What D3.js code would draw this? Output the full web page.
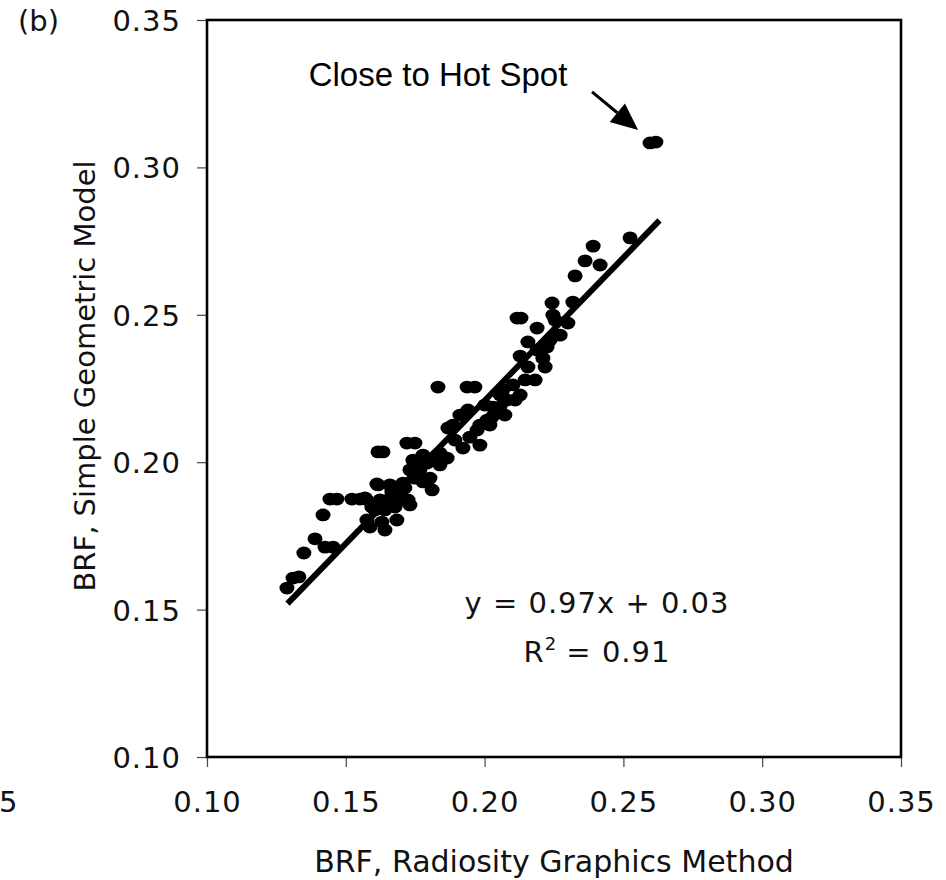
<!DOCTYPE html>
<html>
<head>
<meta charset="utf-8">
<script src="https://cdn.jsdelivr.net/npm/d3@7"></script>
<style>
  body { margin: 0; background: #fff; }
  svg { display: block; }
  .tick-label { font-family: "DejaVu Sans", sans-serif; font-size: 29px; letter-spacing: 1px; fill: #111; }
  .title { font-family: "DejaVu Sans", sans-serif; fill: #111; }
</style>
</head>
<body>
<div id="chart"></div>
<script>
// BRF comparison: radiosity graphics method (x) vs simple geometric model (y)
var radiosityBRF = [
  0.1288, 0.1310, 0.1331, 0.1349, 0.1389, 0.1425, 0.1454, 0.1418, 0.1443, 0.1468,
  0.1522, 0.1551, 0.1573, 0.1612, 0.1594, 0.1576, 0.1587, 0.1630, 0.1605, 0.1641,
  0.1677, 0.1695, 0.1724, 0.1659, 0.1706, 0.1731, 0.1569, 0.1616, 0.1634, 0.1832,
  0.1937, 0.1965, 0.1720, 0.1749, 0.1616, 0.1623, 0.1684, 0.1742, 0.1767, 0.1793,
  0.1829, 0.1803, 0.1839, 0.1911, 0.1868, 0.1886, 0.1839, 0.1865, 0.1947, 0.1973,
  0.2009, 0.2027, 0.2055, 0.2081, 0.2066, 0.2030, 0.1684, 0.1731, 0.1778, 0.1811,
  0.1893, 0.1922, 0.1983, 0.2102, 0.2146, 0.2156, 0.2210, 0.2236, 0.2225, 0.2156,
  0.2189, 0.2246, 0.2254, 0.2300, 0.2243, 0.2318, 0.2117, 0.2131, 0.2326, 0.2362,
  0.2391, 0.2416, 0.2524, 0.2596, 0.2617, 0.2189, 0.2128, 0.2056, 0.2001, 0.1940,
  0.1983, 0.2019, 0.2073, 0.2110, 0.2128, 0.2182, 0.2218, 0.2272, 0.1652, 0.1666,
  0.1749, 0.1713, 0.1641, 0.1778
];
var geometricBRF = [
  0.1573, 0.1607, 0.1611, 0.1692, 0.1740, 0.1712, 0.1712, 0.1821, 0.1875, 0.1875,
  0.1875, 0.1875, 0.1875, 0.1926, 0.1848, 0.1804, 0.1780, 0.1797, 0.1838, 0.1838,
  0.1848, 0.1896, 0.1872, 0.1923, 0.1929, 0.1974, 0.1879, 0.2035, 0.2035, 0.2255,
  0.2255, 0.2255, 0.2065, 0.2065, 0.1923, 0.1872, 0.1865, 0.2007, 0.1974, 0.1997,
  0.2024, 0.1946, 0.1991, 0.2160, 0.2116, 0.2126, 0.2031, 0.2014, 0.2085, 0.2109,
  0.2143, 0.2153, 0.2187, 0.2211, 0.2245, 0.2187, 0.1804, 0.1855, 0.1933, 0.1906,
  0.2075, 0.2048, 0.2126, 0.2262, 0.2279, 0.2323, 0.2353, 0.2415, 0.2391, 0.2408,
  0.2455, 0.2499, 0.2482, 0.2472, 0.2540, 0.2543, 0.2489, 0.2489, 0.2632, 0.2683,
  0.2733, 0.2669, 0.2761, 0.3083, 0.3086, 0.2381, 0.2360, 0.2228, 0.2194, 0.2177,
  0.2058, 0.2126, 0.2160, 0.2211, 0.2228, 0.2279, 0.2323, 0.2431, 0.1872, 0.1899,
  0.1946, 0.1913, 0.1770, 0.2024
];

// fitted line endpoints (y = 0.97x + 0.03)
var fitX = [0.129, 0.263];
var fitY = [0.152, 0.282];

var tickValues = [0.10, 0.15, 0.20, 0.25, 0.30, 0.35];

var width = 946, height = 880;
var margin = { top: 20, right: 45, bottom: 123, left: 207 };

var svg = d3.select("#chart").append("svg")
  .attr("width", width)
  .attr("height", height);

var x = d3.scaleLinear().domain([0.10, 0.35]).range([margin.left, width - margin.right]);
var y = d3.scaleLinear().domain([0.10, 0.35]).range([height - margin.bottom, margin.top]);

var fmt = d3.format(".2f");

// y axis ticks + labels
var yAxis = svg.append("g")
  .attr("transform", "translate(" + margin.left + ",0)")
  .call(d3.axisLeft(y).tickValues(tickValues).tickSize(10).tickFormat(fmt));
yAxis.select(".domain").remove();
yAxis.selectAll(".tick line").attr("stroke", "#444").attr("stroke-width", 1.2);
yAxis.selectAll(".tick text")
  .attr("class", "tick-label")
  .attr("x", -26)
  .attr("dy", "0.36em");

// x axis ticks + labels
var xAxis = svg.append("g")
  .attr("transform", "translate(0," + (height - margin.bottom) + ")")
  .call(d3.axisBottom(x).tickValues(tickValues).tickSize(10).tickFormat(fmt));
xAxis.select(".domain").remove();
xAxis.selectAll(".tick line").attr("stroke", "#444").attr("stroke-width", 1.2);
xAxis.selectAll(".tick text")
  .attr("class", "tick-label")
  .attr("y", 55)
  .attr("dy", 0);
xAxis.attr("font-size", null).attr("font-family", null);
yAxis.attr("font-size", null).attr("font-family", null);

// clipped label left over from the neighbouring panel
svg.append("text")
  .attr("class", "tick-label")
  .attr("x", -1)
  .attr("y", height - margin.bottom + 55)
  .text("5");

// plot frame
svg.append("rect")
  .attr("x", x(0.10))
  .attr("y", y(0.35))
  .attr("width", x(0.35) - x(0.10))
  .attr("height", y(0.10) - y(0.35))
  .attr("fill", "none")
  .attr("stroke", "#000")
  .attr("stroke-width", 2.6);

// points
var pts = radiosityBRF.map(function(d, i) { return { x: d, y: geometricBRF[i] }; });

svg.append("g")
  .selectAll("ellipse")
  .data(pts)
  .enter().append("ellipse")
  .attr("cx", function(d) { return x(d.x); })
  .attr("cy", function(d) { return y(d.y); })
  .attr("rx", 7.5)
  .attr("ry", 6.4)
  .attr("fill", "#000");

// trend line
svg.append("line")
  .attr("x1", x(fitX[0])).attr("y1", y(fitY[0]))
  .attr("x2", x(fitX[1])).attr("y2", y(fitY[1]))
  .attr("stroke", "#000")
  .attr("stroke-width", 6);

// equation
svg.append("text")
  .attr("class", "title")
  .attr("text-anchor", "middle")
  .attr("x", 597).attr("y", 613)
  .style("font-size", "29px")
  .style("letter-spacing", "1px")
  .text("y = 0.97x + 0.03");

var r2 = svg.append("text")
  .attr("class", "title")
  .attr("text-anchor", "middle")
  .attr("x", 597).attr("y", 662)
  .style("font-size", "29px")
  .style("letter-spacing", "1px");
r2.append("tspan").text("R");
r2.append("tspan").attr("dy", -12).style("font-size", "18px").style("letter-spacing", "0px").text("2");
r2.append("tspan").attr("dy", 12).text(" = 0.91");

// hot spot annotation
var arrowFrom = [0.2387, 0.3256], arrowTo = [0.2553, 0.3127];
var ax1 = x(arrowFrom[0]), ay1 = y(arrowFrom[1]);
var ax2 = x(arrowTo[0]), ay2 = y(arrowTo[1]);
var ang = Math.atan2(ay2 - ay1, ax2 - ax1);
var headLen = 27, headW = 12;
var bx = ax2 - headLen * Math.cos(ang), by = ay2 - headLen * Math.sin(ang);

svg.append("line")
  .attr("x1", ax1).attr("y1", ay1)
  .attr("x2", bx).attr("y2", by)
  .attr("stroke", "#000")
  .attr("stroke-width", 3);
svg.append("path")
  .attr("d", "M" + ax2 + "," + ay2 +
    "L" + (bx + headW * Math.sin(ang)) + "," + (by - headW * Math.cos(ang)) +
    "L" + (bx - headW * Math.sin(ang)) + "," + (by + headW * Math.cos(ang)) + "Z")
  .attr("fill", "#000");

svg.append("text")
  .attr("x", 438).attr("y", 86)
  .attr("text-anchor", "middle")
  .style("font-family", "'Liberation Sans', Arial, sans-serif")
  .style("font-size", "33px")
  .attr("fill", "#000")
  .text("Close to Hot Spot");

// axis titles
svg.append("text")
  .attr("class", "title")
  .attr("x", 554).attr("y", 872)
  .attr("text-anchor", "middle")
  .style("font-size", "30px")
  .text("BRF, Radiosity Graphics Method");

svg.append("text")
  .attr("class", "title")
  .attr("transform", "translate(95,376) rotate(-90)")
  .attr("text-anchor", "middle")
  .style("font-size", "29px")
  .text("BRF, Simple Geometric Model");

// panel letter
svg.append("text")
  .attr("class", "title")
  .attr("x", 18).attr("y", 31)
  .style("font-size", "29px")
  .text("(b)");
</script>
</body>
</html>
